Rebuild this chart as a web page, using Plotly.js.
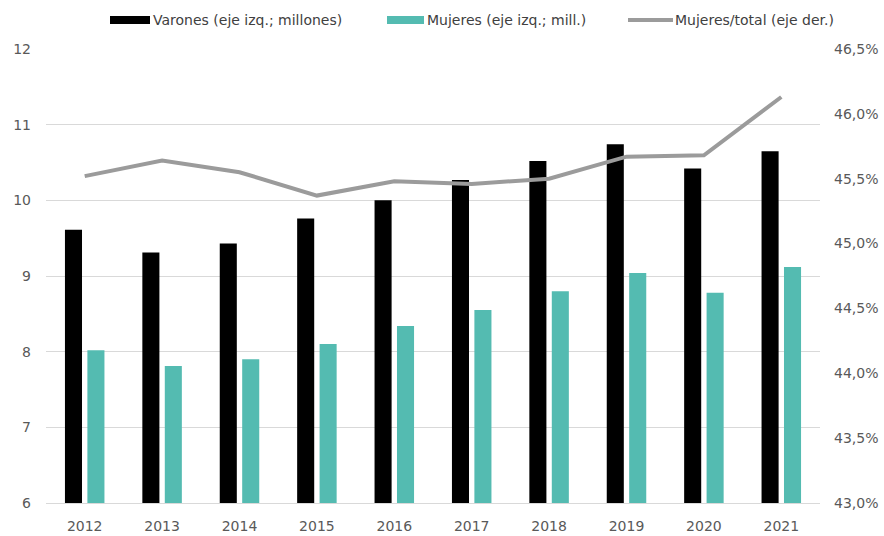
<!DOCTYPE html>
<html>
<head>
<meta charset="utf-8">
<script src="https://cdn.plot.ly/plotly-3.0.1.min.js"></script>
<style>html,body{margin:0;padding:0;background:#fff;}#chart{width:884px;height:536px;}</style>
</head>
<body>
<div id="chart"></div>
<script>
const years = ['2012','2013','2014','2015','2016','2017','2018','2019','2020','2021'];
const varones = [9.61, 9.31, 9.43, 9.76, 10.00, 10.27, 10.52, 10.74, 10.42, 10.65];
const mujeres = [8.02, 7.81, 7.90, 8.10, 8.34, 8.55, 8.80, 9.04, 8.78, 9.12];
const ratio = [45.52, 45.64, 45.55, 45.37, 45.48, 45.46, 45.50, 45.67, 45.68, 46.13];
const legendLabels = ['Varones (eje izq.; millones)', 'Mujeres (eje izq.; mill.)', 'Mujeres/total (eje der.)'];

const cBlack = '#000000', cTeal = '#54BBB1', cGray = '#9B9B9B';
const W = 884, H = 536, L = 46, R = 64, T = 49, B = 33;
const pw = W - L - R, ph = H - T - B;
const px = x => (x - L) / pw;
const py = y => (H - B - y) / ph;

const traces = [
  {type:'bar', x:years, y:varones, name:legendLabels[0], marker:{color:cBlack}, yaxis:'y'},
  {type:'bar', x:years, y:mujeres, name:legendLabels[1], marker:{color:cTeal}, yaxis:'y'},
  {type:'scatter', mode:'lines', x:years, y:ratio, name:legendLabels[2], line:{color:cGray, width:4}, yaxis:'y2'}
];

const fontTick = {family:'"DejaVu Sans", sans-serif', size:14, color:'#595959'};
const legFont = {family:'"DejaVu Sans", sans-serif', size:14, color:'#404040'};

const shapes = [
  {type:'rect', xref:'paper', yref:'paper', x0:px(110), x1:px(150), y0:py(24), y1:py(16), fillcolor:cBlack, line:{width:0}},
  {type:'rect', xref:'paper', yref:'paper', x0:px(387), x1:px(424), y0:py(24), y1:py(16), fillcolor:cTeal, line:{width:0}},
  {type:'line', xref:'paper', yref:'paper', x0:px(628), x1:px(673), y0:py(20), y1:py(20), line:{color:cGray, width:4}}
];
const annotations = [
  {xref:'paper', yref:'paper', x:px(151), y:py(20), xanchor:'left', yanchor:'middle', text:legendLabels[0], showarrow:false, font:legFont},
  {xref:'paper', yref:'paper', x:px(425), y:py(20), xanchor:'left', yanchor:'middle', text:legendLabels[1], showarrow:false, font:legFont},
  {xref:'paper', yref:'paper', x:px(673), y:py(20), xanchor:'left', yanchor:'middle', text:legendLabels[2], showarrow:false, font:legFont}
];

const layout = {
  width:W, height:H,
  margin:{l:L, r:R, t:T, b:B, pad:0},
  paper_bgcolor:'#fff', plot_bgcolor:'#fff',
  separators:',.',
  showlegend:false,
  barmode:'group', bargap:0.42, bargroupgap:0.24,
  xaxis:{type:'category', showgrid:false, showline:true, linecolor:'#d9d9d9', linewidth:1, ticks:'', tickfont:fontTick, ticklabelstandoff:10},
  yaxis:{range:[6,12], dtick:1, tick0:6, showgrid:true, gridcolor:'#d9d9d9', gridwidth:1, zeroline:false, showline:false, ticks:'', tickfont:fontTick, ticklabelstandoff:14},
  yaxis2:{range:[43,46.5], dtick:0.5, tick0:43, overlaying:'y', side:'right', showgrid:false, zeroline:false, showline:false, ticks:'', tickformat:'.1f', ticksuffix:'%', tickfont:fontTick, ticklabelstandoff:13},
  shapes:shapes, annotations:annotations
};

Plotly.newPlot('chart', traces, layout, {displayModeBar:false, staticPlot:true});
</script>
</body>
</html>
